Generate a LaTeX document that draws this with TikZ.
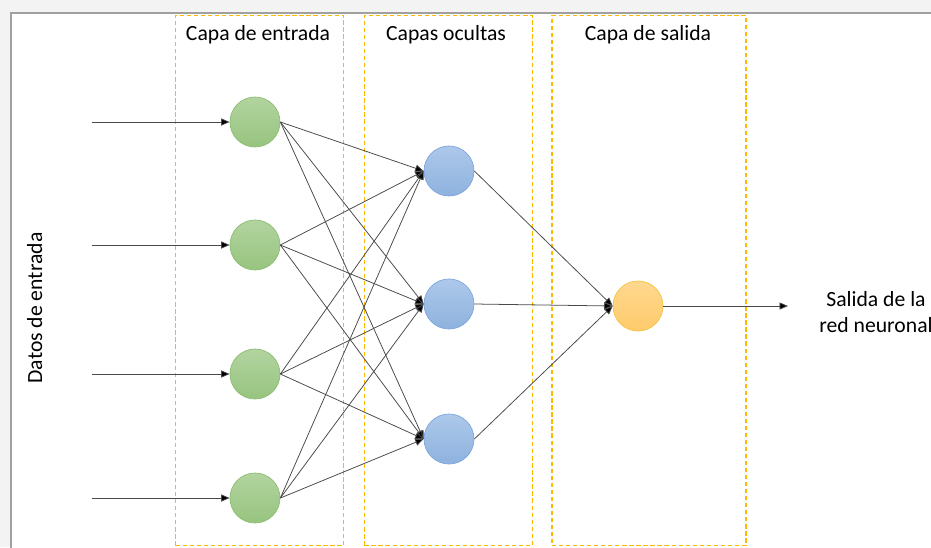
\documentclass[tikz,border=0pt]{standalone}
\usepackage{fontspec}
\setmainfont{Carlito}
\usetikzlibrary{arrows.meta}

\definecolor{marco}{HTML}{A0A0A0}
\definecolor{fondo}{HTML}{F3F3F3}
\definecolor{capa}{HTML}{FFB800}
\definecolor{verdeA}{HTML}{B2D4A0}
\definecolor{verdeB}{HTML}{97C47F}
\definecolor{verdeL}{HTML}{8DBD74}
\definecolor{azulA}{HTML}{ADC8EA}
\definecolor{azulB}{HTML}{8EB2DE}
\definecolor{azulL}{HTML}{7EA6E0}
\definecolor{naranjaA}{HTML}{FFD88F}
\definecolor{naranjaB}{HTML}{FFCB6B}
\definecolor{naranjaL}{HTML}{F5C242}
\definecolor{enlace}{HTML}{4A4A4A}

\begin{document}
\begin{tikzpicture}[x=0.025cm, y=-0.025cm, font=\fontsize{15.4}{18}\selectfont,
        neurona/.style={shape=circle, draw, line width=0.5pt, inner sep=0, minimum size=1.25cm, shading=axis},
        capabox/.style={shape=rectangle, draw=capa, line width=1pt, dash pattern={on 3pt off 2pt}, inner sep=0, minimum height=13.25cm},
        flecha/.style={draw=enlace, line width=0.55pt, -{Triangle[length=6pt, width=5pt, fill=black]}}]
        % Frame:
        \useasboundingbox (0, 0) rectangle (931, 547);
        \fill[fondo] (0, 0) rectangle (931, 547);
        \draw[fill=white, draw=marco, line width=1.1pt] (11, 13) rectangle (960, 580);
        % Layers:
        \node[capabox, minimum width=4.2cm] (c1) at (259.7, 280.5){};
        \node[capabox, minimum width=4.2cm] (c2) at (448.4, 280.5){};
        \node[capabox, minimum width=4.845cm] (c3) at (648.9, 280.5){};
        \node[anchor=base] (t1) at (258, 40.5){Capa de entrada};
        \node[anchor=base] (t2) at (446, 40.5){Capas ocultas};
        \node[anchor=base] (t3) at (648, 40.5){Capa de salida};
        \node[rotate=90, anchor=base] (datos) at (42, 308){Datos de entrada};
        % Neurons:
        \node[neurona, draw=verdeL, top color=verdeA, bottom color=verdeB] (e1) at (255, 122){};
        \node[neurona, draw=verdeL, top color=verdeA, bottom color=verdeB] (e2) at (255, 245){};
        \node[neurona, draw=verdeL, top color=verdeA, bottom color=verdeB] (e3) at (255, 374){};
        \node[neurona, draw=verdeL, top color=verdeA, bottom color=verdeB] (e4) at (255, 498){};
        \node[neurona, draw=azulL, top color=azulA, bottom color=azulB] (o1) at (449, 171){};
        \node[neurona, draw=azulL, top color=azulA, bottom color=azulB] (o2) at (449, 304){};
        \node[neurona, draw=azulL, top color=azulA, bottom color=azulB] (o3) at (449, 439){};
        \node[neurona, draw=naranjaL, top color=naranjaA, bottom color=naranjaB] (s) at (638, 306){};
        \node[align=center, font=\fontsize{15.4}{18.5}\selectfont] (salida) at (876, 312){Salida de la\\red neuronal};
        % Inputs:
        \coordinate (in1) at (92, 122);
        \coordinate (in2) at (92, 245);
        \coordinate (in3) at (92, 374);
        \coordinate (in4) at (92, 498);
        \coordinate (out) at (788, 306);
        \draw[flecha] (in1) -- (e1.west);
        \draw[flecha] (in2) -- (e2.west);
        \draw[flecha] (in3) -- (e3.west);
        \draw[flecha] (in4) -- (e4.west);
        % Connections:
        \draw[flecha] (e1.east) -- (o1.west);
        \draw[flecha] (e1.east) -- (o2.west);
        \draw[flecha] (e1.east) -- (o3.west);
        \draw[flecha] (e2.east) -- (o1.west);
        \draw[flecha] (e2.east) -- (o2.west);
        \draw[flecha] (e2.east) -- (o3.west);
        \draw[flecha] (e3.east) -- (o1.west);
        \draw[flecha] (e3.east) -- (o2.west);
        \draw[flecha] (e3.east) -- (o3.west);
        \draw[flecha] (e4.east) -- (o1.west);
        \draw[flecha] (e4.east) -- (o2.west);
        \draw[flecha] (e4.east) -- (o3.west);
        \draw[flecha] (o1.east) -- (s.west);
        \draw[flecha] (o2.east) -- (s.west);
        \draw[flecha] (o3.east) -- (s.west);
        \draw[flecha] (s.east) -- (out);
      \end{tikzpicture}
\end{document}
